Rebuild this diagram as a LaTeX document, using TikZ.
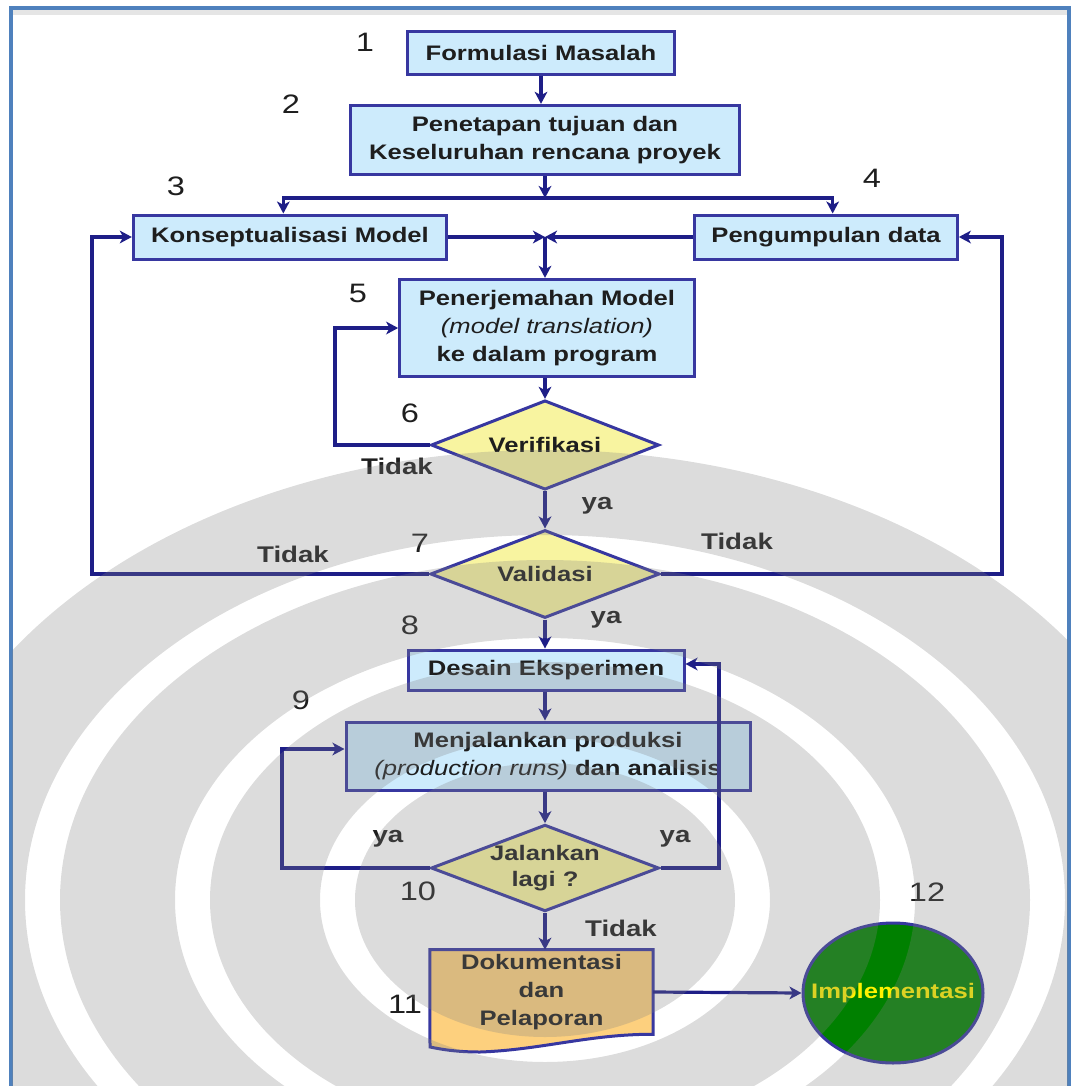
\documentclass[tikz,border=0pt]{standalone}
\usepackage{fontspec}
\setmainfont{Liberation Sans}[FakeStretch=1.22]
\usetikzlibrary{arrows.meta,shapes.geometric,calc,backgrounds}

\definecolor{frameblue}{RGB}{79,129,189}
\definecolor{boxfill}{RGB}{205,235,252}
\definecolor{boxline}{RGB}{55,55,160}
\definecolor{connblue}{RGB}{30,30,135}
\definecolor{diafill}{RGB}{248,244,160}
\definecolor{docfill}{RGB}{253,208,126}
\definecolor{implgreen}{RGB}{0,128,0}
\definecolor{txt}{RGB}{30,30,30}
\definecolor{markgrey}{RGB}{130,130,130}

\tikzset{
  box/.style={draw=boxline, line width=2.25pt, fill=boxfill, inner sep=0pt,
    align=center, text=txt, font=\fontsize{15.75}{21}\selectfont\bfseries},
  dia/.style={diamond, draw=boxline, line width=2.25pt, fill=diafill, inner sep=0pt},
  dtext/.style={align=center, inner sep=0pt, text=txt,
    font=\fontsize{15.75}{19.5}\selectfont\bfseries},
  conn/.style={draw=connblue, line width=2.4pt},
  arr/.style={conn, -{Stealth[length=9pt,width=9.5pt,inset=2.5pt]}},
  num/.style={text=txt, font=\fontsize{20}{20}\selectfont},
  ans/.style={text=txt, font=\fontsize{17}{17}\selectfont\bfseries},
  wm/.style={fill=markgrey, fill opacity=0.28, even odd rule},
}

\begin{document}
\begin{tikzpicture}[x=0.75pt, y=-0.75pt]
\useasboundingbox (0,0) rectangle (1073,1086);

% page frame
\fill[gray!20] (13,10) rectangle (1067,15);
\draw[frameblue, line width=2.4pt] (11,1100) -- (11,8) -- (1069,8) -- (1069,1100);

% process boxes
\node[box, minimum width=200pt, minimum height=32pt] (b1) at (541,53) {Formulasi Masalah};
\node[box, minimum width=292pt, minimum height=52pt] (b2) at (545,140) {Penetapan tujuan dan\\Keseluruhan rencana proyek};
\node[box, minimum width=235pt, minimum height=33pt] (b3) at (290,237) {Konseptualisasi Model};
\node[box, minimum width=197pt, minimum height=33pt] (b4) at (826,237) {Pengumpulan data};
\node[box, minimum width=221pt, minimum height=73pt] (b5) at (547,328) {Penerjemahan Model\\{\mdseries\itshape (model translation)}\\ke dalam program};
\node[dia, minimum width=171pt, minimum height=67pt, label={[dtext]center:Verifikasi}] (d6) at (545,445) {};
\node[dia, minimum width=172pt, minimum height=66pt, label={[dtext]center:Validasi}] (d7) at (545,574) {};
\node[box, minimum width=207pt, minimum height=30pt] (b8) at (546,670) {Desain Eksperimen};
\node[box, minimum width=303pt, minimum height=51pt] (b9) at (548,756) {Menjalankan produksi\\{\mdseries\itshape (production runs)} dan analisis};
\node[dia, minimum width=171pt, minimum height=65pt, label={[dtext]center:Jalankan\\lagi ?}] (d10) at (545,868) {};
\node[align=center, inner sep=0pt, text=txt, font=\fontsize{15.75}{21}\selectfont\bfseries,
      minimum width=167pt, minimum height=63pt] (b11) at (541.5,992) {Dokumentasi\\dan\\Pelaporan};
\node[ellipse, draw=boxline, line width=2.25pt, fill=implgreen, inner sep=0pt,
      minimum width=135pt, minimum height=105pt,
      label={[text=yellow, inner sep=0pt, font=\fontsize{15.75}{18}\selectfont\bfseries]center:Implementasi}] (c12) at (893,993) {};

% document shape behind its text
\begin{pgfonlayer}{background}
\draw[boxline, line width=2.25pt, fill=docfill]
  (b11.north west) -- (b11.north east) -- (b11.south east)
  .. controls (590,1034) and (540,1050) .. (480,1052)
  .. controls (455,1052) and (440,1049) .. (430,1047) -- cycle;
\end{pgfonlayer}

% step numbers
\node[num] at (365,42) {1};
\node[num] at (291,104) {2};
\node[num] at (176,186) {3};
\node[num] at (872,178) {4};
\node[num] at (358,293) {5};
\node[num] at (410,413) {6};
\node[num] at (420,543) {7};
\node[num] at (410,625) {8};
\node[num] at (301,700) {9};
\node[num] at (418,891) {10};
\node[num] at (405,1004) {11};
\node[num] at (927,892) {12};

% branch labels
\node[ans] at (397,466) {Tidak};
\node[ans] at (597,506) {ya};
\node[ans] at (293,554) {Tidak};
\node[ans] at (737,541) {Tidak};
\node[ans] at (606,620) {ya};
\node[ans] at (388,839) {ya};
\node[ans] at (675,839) {ya};
\node[ans] at (621,928) {Tidak};

% junctions and loop corners
\coordinate (j1) at (545,198);
\coordinate (j2) at (545,237);
\coordinate (lv) at (335,445);
\coordinate (L7) at (92,574);
\coordinate (R7) at (1002,574);
\coordinate (l10) at (282,868);
\coordinate (r10) at (719,868);

% connectors
\draw[arr] (b1.south) -- (b1.south |- b2.north);
\draw[arr] (b2.south) -- (j1);
\draw[arr] (j1) -| ([xshift=-5pt]b3.north);
\draw[arr] (j1) -| ([xshift=5pt]b4.north);
\draw[arr] (b3.east) -- (j2);
\draw[arr] (b4.west) -- (j2);
\draw[arr] (j2) -- (j2 |- b5.north);
\draw[arr] (d6.north |- b5.south) -- (d6.north);
\draw[arr] (d6.west) -- (lv) |- (b5.west);
\draw[arr] (d6.south) -- (d7.north);
\draw[arr] (d7.west) -- (L7) |- (b3.west);
\draw[arr] (d7.east) -- (R7) |- (b4.east);
\draw[arr] (d7.south) -- (d7.south |- b8.north);
\draw[arr] (d7.south |- b8.south) -- (d7.south |- b9.north);
\draw[arr] (d10.north |- b9.south) -- (d10.north);
\draw[arr] (d10.west) -- (l10) |- ([yshift=5.25pt]b9.west);
\draw[arr] (d10.east) -- (r10) |- ([yshift=4.5pt]b8.east);
\draw[arr] (d10.south) -- (d10.south |- b11.north);
\draw[arr] (b11.east) -- (c12.west);

% faint emblem laid over the chart: grey bands split by white rings
\begin{scope}
\clip (12,9) rectangle (1068,1086);
\path[wm] (545,900) ellipse[x radius=640, y radius=450]
          (545,900) ellipse[x radius=520, y radius=365]
          (545,900) ellipse[x radius=485, y radius=340]
          (545,900) ellipse[x radius=370, y radius=262]
          (545,900) ellipse[x radius=335, y radius=238]
          (545,900) ellipse[x radius=225, y radius=162]
          (545,900) ellipse[x radius=190, y radius=137];
\end{scope}
\end{tikzpicture}
\end{document}
